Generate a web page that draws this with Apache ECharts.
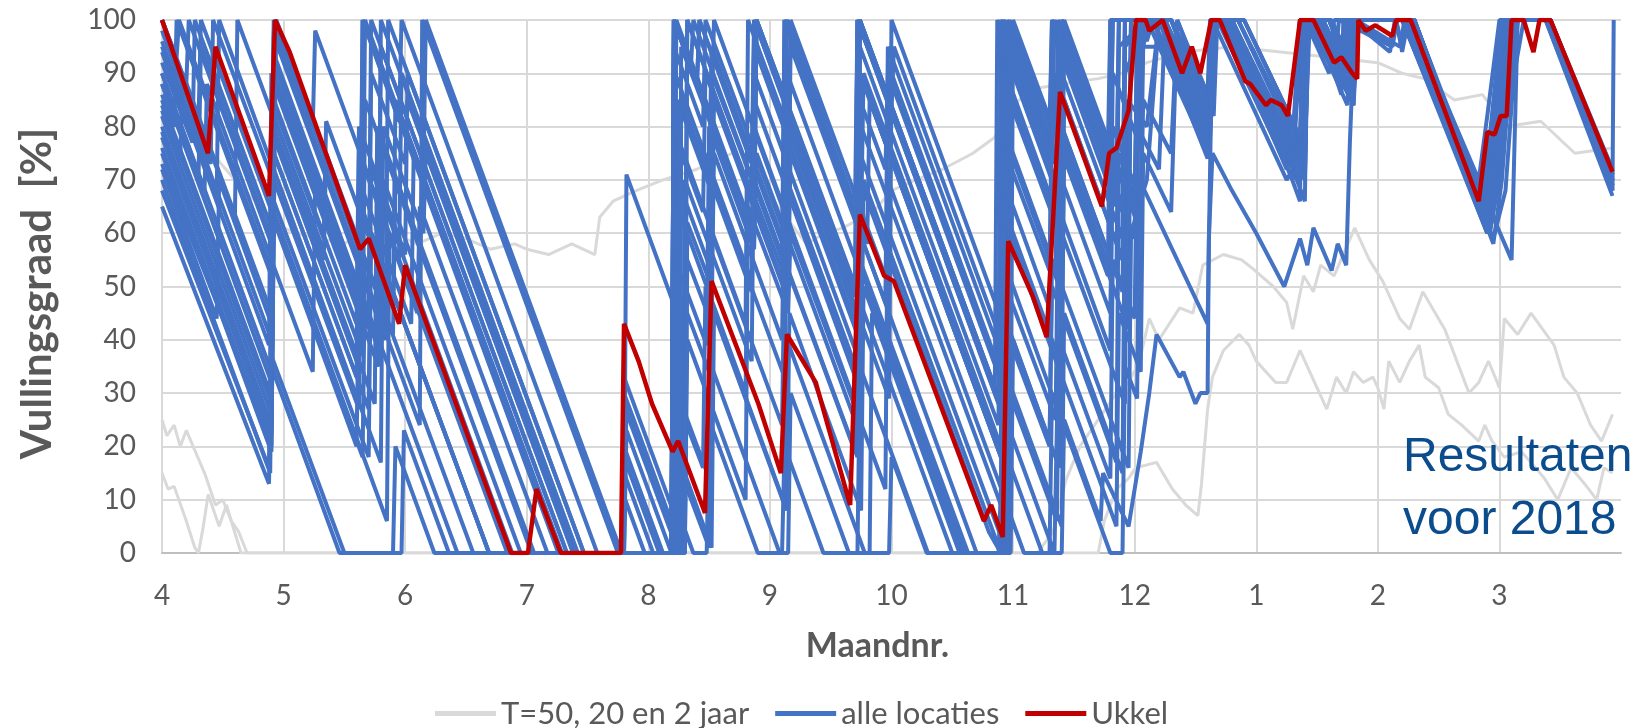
<!DOCTYPE html>
<html>
<head>
<meta charset="utf-8">
<title>Vullingsgraad 2018</title>
<script src="https://cdn.jsdelivr.net/npm/echarts@6/dist/echarts.min.js"></script>
<style>
  html, body { margin: 0; padding: 0; background: #fff; }
  #chart { width: 1644px; height: 728px; }
</style>
</head>
<body>
<div id="chart"></div>
<script>
// x = maanden sinds 1 april (0 = begin maand 4), y = vullingsgraad in %
const monthLabels = ['4', '5', '6', '7', '8', '9', '10', '11', '12', '1', '2', '3'];

const ukkel = [[0,100],[0.378,75],[0.44,95],[0.88,67],[0.93,100],[1.05,94],[1.63,57],[1.7,59],[1.95,43],[2.0,54],[2.87,0],[3.01,0],[3.08,12],[3.28,0],[3.775,0],[3.8,43],[3.92,36],[4.03,28],[4.2,19],[4.245,21],[4.466,7.5],[4.52,51],[4.905,28],[5.09,15],[5.14,41],[5.377,32],[5.66,9],[5.74,63.5],[5.94,52],[6.02,51],[6.76,6],[6.82,9],[6.915,3],[6.96,58.5],[7.165,48],[7.276,40.5],[7.386,86.5],[7.73,65],[7.79,75],[7.85,76],[7.95,83],[8.01,100],[8.09,100],[8.12,98],[8.23,100],[8.39,90],[8.47,95],[8.54,90],[8.63,100],[8.7,100],[8.91,88.5],[8.95,88],[9.08,84],[9.12,85],[9.21,84],[9.26,82],[9.36,100],[9.47,100],[9.64,92],[9.7,93],[9.79,90],[9.83,89],[9.84,100],[9.9,98],[9.98,99],[10.12,97],[10.15,100],[10.27,100],[10.83,66],[10.9,79],[10.96,78.5],[11.01,82],[11.06,82],[11.1,100],[11.2,100],[11.28,94],[11.33,100],[11.42,100],[11.93,71.5]];

const grayT50 = [[0,85],[0.3,78],[0.6,70],[0.85,64],[1.0,61],[1.1,60],[1.3,59],[1.5,58],[1.7,61],[1.9,60],[2.1,58],[2.3,60],[2.5,59],[2.7,57],[2.9,58],[3.0,57],[3.18,56],[3.37,58],[3.56,56],[3.6,63],[3.71,66],[3.9,68],[4.12,70],[4.4,72],[4.69,75],[4.9,70],[5.1,64],[5.3,58],[5.45,60],[5.6,61],[5.85,64],[6.0,68],[6.2,70],[6.42,72],[6.67,75],[6.85,78],[7.0,84],[7.15,87],[7.4,88],[7.7,89],[7.9,90],[8.1,92],[8.4,94],[8.8,95],[9.2,94],[9.6,93],[10.0,92],[10.2,90],[10.38,89],[10.63,85],[10.86,86],[11.06,80],[11.34,81],[11.62,75],[11.93,76]];
const grayT20 = [[0,25],[0.04,22],[0.1,24],[0.15,20],[0.2,23],[0.35,15],[0.44,9],[0.5,10],[0.57,6],[0.63,4],[0.7,0],[7.2,0],[7.33,4],[7.38,9],[7.44,14],[7.55,20],[7.7,25],[7.85,30],[7.95,32],[8.04,36],[8.12,44],[8.2,40],[8.37,46],[8.48,45],[8.56,54],[8.73,56],[8.88,55],[8.99,53],[9.14,50],[9.25,47],[9.3,42],[9.39,52],[9.47,49],[9.53,54],[9.64,52],[9.81,61],[9.93,55],[10.04,51],[10.18,44],[10.26,42],[10.37,49],[10.55,42],[10.75,30],[10.83,32],[10.91,36],[11.0,31],[11.04,44],[11.15,41],[11.26,45],[11.45,39],[11.53,33],[11.64,30],[11.75,24],[11.84,21],[11.93,26]];
const grayT2 = [[0,15],[0.05,12],[0.1,12.5],[0.2,6],[0.27,1],[0.3,0],[0.34,5],[0.38,11],[0.47,5],[0.53,9],[0.65,0],[7.7,0],[7.75,6],[7.85,12],[7.95,14],[8.01,16],[8.18,17],[8.31,12],[8.42,9],[8.52,7],[8.55,13],[8.6,27],[8.64,33],[8.73,38],[8.86,41],[8.94,39],[9.0,36],[9.16,32],[9.25,32],[9.36,38],[9.46,33],[9.58,27],[9.66,33],[9.74,30],[9.8,34],[9.88,32],[9.96,33],[10.0,31],[10.05,27],[10.09,36],[10.18,32],[10.26,36],[10.34,39],[10.39,33],[10.5,31],[10.58,26],[10.69,24],[10.83,21],[10.88,24],[10.94,21],[11.04,18],[11.18,19],[11.26,17],[11.37,14],[11.48,10],[11.59,16],[11.7,13],[11.8,10],[11.86,16],[11.93,15]];

const loc1 = [[0,100],[0.2,88],[0.22,100],[0.9,58],[0.92,100],[1.65,55],[1.67,100],[2.15,70],[2.17,100],[3.78,0],[4.21,0],[4.23,100],[4.87,60],[4.89,100],[5.72,49],[5.74,100],[6.93,26],[6.95,100],[7.38,73],[7.4,100],[7.8,75],[7.82,100],[8.2,100],[8.6,75],[8.63,100],[8.72,100],[9.36,70],[9.38,100],[9.5,100],[9.78,87],[9.8,100],[10.3,100],[10.87,66],[10.95,78],[11.08,100],[11.42,100],[11.93,71]];
const loc2 = [[0,100],[0.12,93],[0.14,100],[0.9,53],[0.92,97],[1.84,40],[1.86,100],[3.47,0],[4.25,0],[4.27,95],[4.52,80],[4.54,100],[5.15,62],[5.17,100],[5.98,50],[6.0,100],[6.95,41],[6.97,100],[7.3,80],[7.32,100],[7.9,64],[7.92,100],[8.25,100],[8.62,82],[8.64,100],[8.8,100],[9.4,72],[9.42,100],[9.55,100],[9.72,92],[9.74,100],[10.15,100],[10.2,94],[10.25,100],[10.3,100],[10.9,62],[11.0,75],[11.1,100],[11.38,100],[11.93,68]];
const loc3 = [[0,98],[0.4,73],[0.42,100],[0.91,70],[0.93,93],[1.7,45],[1.72,100],[3.33,0],[3.8,0],[3.82,71],[4.3,41],[4.32,100],[4.85,67],[4.87,90],[5.72,37],[5.74,100],[6.9,28],[6.92,100],[7.4,70],[7.42,95],[8.0,59],[8.02,100],[8.15,100],[8.6,78],[8.63,100],[8.7,100],[9.25,74],[9.3,80],[9.36,76],[9.4,100],[9.6,90],[9.64,100],[10.2,100],[10.85,64],[10.92,75],[11.05,100],[11.4,100],[11.93,70]];
const loc4 = [[0,96],[0.9,40],[0.92,100],[1.24,80],[1.26,98],[1.95,55],[1.97,90],[3.42,0],[4.19,0],[4.21,100],[4.4,88],[4.42,100],[5.12,57],[5.14,100],[5.75,62],[5.77,90],[6.9,20],[6.92,95],[7.35,68],[7.37,100],[7.85,70],[7.87,100],[8.3,100],[8.6,86],[8.62,100],[8.75,100],[9.3,74],[9.36,100],[9.45,100],[9.8,84],[9.82,100],[10.27,100],[10.83,70],[10.9,82],[11.0,100],[11.4,100],[11.93,70]];
const loc5 = [[0,94],[0.88,39],[0.9,90],[1.63,45],[1.65,100],[3.26,0],[4.2,0],[4.22,90],[4.85,51],[4.87,100],[5.7,48],[5.72,100],[6.98,22],[7.0,100],[7.78,52],[7.8,100],[8.05,100],[8.1,96],[8.15,100],[8.6,75],[8.64,100],[9.25,70],[9.3,72],[9.4,66],[9.42,100],[9.5,100],[9.7,88],[9.72,100],[10.1,96],[10.15,100],[10.3,100],[10.9,63],[11.0,72],[11.15,100],[11.4,100],[11.93,69]];
const loc6 = [[0,92],[0.25,77],[0.27,100],[0.9,61],[0.92,88],[1.78,35],[1.8,100],[3.41,0],[4.22,0],[4.24,85],[4.5,69],[4.52,95],[5.15,56],[5.17,95],[5.95,47],[5.97,95],[6.92,36],[6.94,90],[7.4,61],[7.42,100],[7.95,67],[7.97,100],[8.2,100],[8.62,80],[8.65,100],[8.9,100],[9.4,76],[9.44,100],[9.6,100],[9.75,92],[9.78,100],[10.25,100],[10.95,58],[11.02,70],[11.12,100],[11.42,100],[11.93,71]];
const loc7 = [[0,90],[0.9,34],[0.92,85],[1.6,43],[1.62,80],[2.0,56],[2.02,90],[3.47,0],[4.19,0],[4.21,80],[4.8,43],[4.82,100],[5.72,44],[5.74,95],[6.88,24],[6.9,100],[7.32,73],[7.34,90],[7.9,55],[7.92,95],[8.1,100],[8.22,100],[8.6,80],[8.63,100],[8.68,100],[9.2,75],[9.25,80],[9.36,74],[9.38,100],[9.52,100],[9.8,86],[9.82,100],[10.18,95],[10.22,100],[10.3,100],[10.88,64],[10.95,76],[11.05,100],[11.4,100],[11.93,69]];
const loc8 = [[0,88],[0.9,32],[0.92,84],[1.33,59],[1.35,81],[1.9,47],[1.92,85],[3.29,0],[3.78,0],[3.8,33],[4.25,5],[4.27,75],[4.45,64],[4.47,90],[5.1,51],[5.12,100],[5.8,58],[5.82,85],[6.95,15],[6.97,85],[7.38,60],[7.4,100],[8.02,62],[8.04,100],[8.3,100],[8.62,84],[8.66,100],[8.8,100],[9.36,73],[9.4,100],[9.7,88],[9.74,100],[10.2,100],[10.85,66],[10.92,78],[11.02,100],[11.4,100],[11.93,72]];
const loc9 = [[0,86],[0.1,80],[0.12,100],[0.9,52],[0.92,82],[1.65,37],[1.67,85],[3.04,0],[4.28,0],[4.3,70],[4.85,36],[4.87,80],[5.72,27],[5.74,90],[6.9,18],[6.92,80],[7.35,53],[7.37,80],[7.8,53],[7.82,90],[8.05,76],[8.07,100],[8.25,100],[8.6,83],[8.64,100],[8.75,100],[9.3,73],[9.38,100],[9.5,100],[9.64,90],[9.68,100],[10.12,95],[10.16,100],[10.3,100],[10.92,61],[11.0,70],[11.1,100],[11.4,100],[11.93,69]];
const loc10 = [[0,85],[0.89,30],[0.91,80],[1.75,28],[1.77,80],[3.06,0],[3.79,0],[3.81,27],[4.25,0],[4.3,0],[4.32,62],[4.52,50],[4.54,85],[5.14,48],[5.16,80],[5.98,29],[6.0,90],[6.96,30],[6.98,75],[7.38,50],[7.4,90],[7.9,59],[7.92,100],[8.15,100],[8.6,74],[8.63,100],[8.72,100],[9.25,72],[9.3,76],[9.4,70],[9.42,100],[9.55,100],[9.8,85],[9.83,100],[10.27,100],[10.85,63],[10.9,74],[11.08,100],[11.4,100],[11.93,70]];
const loc11 = [[0,84],[0.9,28],[0.92,78],[1.6,36],[1.62,70],[2.05,43],[2.07,75],[3.28,0],[4.2,0],[4.22,55],[4.48,39],[4.5,80],[4.87,57],[4.89,75],[5.73,23],[5.75,80],[6.9,9],[6.92,70],[7.3,46],[7.32,85],[7.85,52],[7.87,95],[8.1,100],[8.3,100],[8.6,86],[8.64,100],[8.85,100],[9.4,74],[9.43,100],[9.62,100],[9.78,92],[9.8,100],[10.22,100],[10.9,60],[10.98,72],[11.12,100],[11.38,100],[11.93,67]];
const loc12 = [[0,82],[0.9,26],[0.92,75],[1.7,27],[1.72,72],[2.88,0],[3.8,0],[3.82,23],[4.19,0],[4.25,0],[4.27,48],[4.5,34],[4.52,70],[5.12,33],[5.14,70],[5.72,34],[5.74,75],[6.95,0],[6.97,60],[7.4,33],[7.42,75],[7.95,42],[7.97,100],[8.2,100],[8.62,78],[8.65,100],[8.78,100],[9.36,72],[9.4,100],[9.5,100],[9.7,86],[9.72,100],[10.26,100],[10.88,63],[10.95,75],[11.1,100],[11.4,100],[11.93,70]];
const loc13 = [[0,80],[0.9,24],[0.92,72],[1.8,17],[1.82,70],[2.95,0],[4.3,0],[4.32,40],[4.8,10],[4.82,65],[5.15,45],[5.17,60],[5.95,12],[5.97,70],[6.92,11],[6.94,50],[7.35,25],[7.37,65],[7.8,38],[7.82,80],[8.05,66],[8.07,95],[8.3,95],[8.6,80],[8.63,100],[8.7,100],[9.3,70],[9.36,100],[9.44,100],[9.75,84],[9.78,100],[10.1,94],[10.14,100],[10.3,100],[10.9,63],[11.0,74],[11.2,100],[11.42,100],[11.93,71]];
const loc14 = [[0,79],[0.9,23],[0.92,70],[1.62,27],[1.64,65],[2.69,0],[3.78,0],[3.8,20],[4.12,0],[4.22,0],[4.24,30],[4.5,14],[4.52,60],[5.1,24],[5.12,55],[5.72,18],[5.74,60],[6.7,0],[6.9,0],[6.92,45],[7.38,16],[7.4,60],[7.92,28],[7.94,85],[8.1,80],[8.2,100],[8.6,77],[8.64,100],[8.75,100],[9.25,76],[9.3,80],[9.4,74],[9.42,100],[9.6,100],[9.8,88],[9.82,100],[10.25,100],[10.95,59],[11.05,68],[11.15,100],[11.4,100],[11.93,68],[11.94,100]];
const loc15 = [[0,78],[0.9,22],[0.92,66],[1.7,18],[1.72,60],[2.69,0],[4.19,0],[4.21,100],[4.85,60],[4.87,70],[5.7,19],[5.72,55],[6.6,0],[6.98,0],[7.0,40],[7.3,21],[7.32,50],[7.85,17],[7.87,75],[8.0,67],[8.02,90],[8.12,100],[8.3,100],[8.62,82],[8.65,100],[8.9,100],[9.4,76],[9.43,100],[9.6,100],[9.7,94],[9.75,100],[10.2,100],[10.86,66],[10.93,77],[11.05,100],[11.4,100],[11.93,70]];
const loc16 = [[0,76],[0.9,20],[0.92,63],[1.65,18],[1.67,55],[2.56,0],[3.78,0],[3.8,15],[4.04,0],[4.28,0],[4.3,25],[4.45,16],[4.47,50],[5.14,8],[5.16,45],[5.75,8],[5.77,50],[6.58,0],[6.9,0],[6.92,35],[7.4,5],[7.42,45],[7.9,15],[7.92,70],[8.05,62],[8.07,85],[8.3,75],[8.35,100],[8.65,82],[8.68,100],[8.8,100],[9.36,72],[9.4,100],[9.55,100],[9.8,84],[9.84,100],[10.2,100],[10.9,60],[10.98,70],[11.1,100],[11.4,100],[11.93,69]];
const loc17 = [[0,75],[0.9,19],[0.92,64],[1.85,6],[1.87,60],[2.84,0],[4.2,0],[4.22,20],[4.52,1],[4.54,45],[5.12,9],[5.14,40],[5.78,0],[5.82,0],[5.84,45],[6.56,0],[6.95,0],[6.97,30],[7.36,6],[7.38,40],[7.8,14],[7.82,55],[8.0,44],[8.02,80],[8.2,72],[8.25,100],[8.6,80],[8.64,100],[8.72,100],[9.3,72],[9.36,100],[9.48,100],[9.72,88],[9.75,100],[10.24,100],[10.88,62],[10.96,73],[11.08,100],[11.4,100],[11.93,70]];
const loc18 = [[0,73],[0.88,22],[0.9,35],[1.46,0],[1.9,0],[1.92,20],[2.24,0],[3.79,0],[3.81,10],[3.97,0],[4.3,0],[4.32,100],[4.87,66],[4.89,100],[6.5,0],[6.92,0],[6.94,25],[7.34,0],[7.35,0],[7.37,35],[7.85,5],[7.87,45],[8.05,34],[8.07,75],[8.3,64],[8.35,100],[8.62,85],[8.65,100],[8.85,100],[9.4,75],[9.42,100],[9.6,100],[9.78,90],[9.8,100],[10.25,100],[10.92,60],[11.0,71],[11.1,100],[11.4,100],[11.93,71]];
const loc19 = [[0,70],[0.89,15],[0.91,63],[1.6,20],[1.62,50],[2.43,0],[4.25,0],[4.27,15],[4.5,1],[4.52,35],[5.08,0],[5.15,0],[5.17,30],[5.65,0],[5.72,0],[5.74,35],[6.3,0],[6.9,0],[6.92,20],[7.24,0],[7.3,0],[7.32,30],[7.8,0],[7.9,0],[7.92,35],[8.02,29],[8.04,70],[8.35,55],[8.6,43],[8.64,100],[8.75,100],[9.36,70],[9.42,100],[9.6,100],[9.75,92],[9.78,100],[10.3,100],[10.87,65],[10.95,77],[11.08,100],[11.4,100],[11.93,70]];
const loc20 = [[0,65],[0.88,13],[0.9,37],[1.5,0],[1.97,0],[1.99,23],[2.36,0],[4.19,0],[4.21,10],[4.37,0],[4.48,0],[4.5,25],[4.9,0],[5.1,0],[5.12,20],[5.44,0],[5.98,0],[6.0,18],[6.29,0],[6.88,0],[6.9,12],[7.09,0],[7.4,0],[7.42,25],[7.72,6],[7.74,15],[7.95,5],[8.05,19],[8.12,30],[8.18,41],[8.37,33],[8.4,34],[8.5,28],[8.54,30],[8.6,30],[8.61,59],[8.64,75],[8.8,68],[9.0,60],[9.23,50],[9.36,59],[9.42,54],[9.47,61],[9.62,53],[9.67,58],[9.74,54],[9.77,77],[9.81,100],[10.25,100],[11.1,55],[11.15,100],[11.4,100],[11.93,68]];
const loc21 = [[0,100],[0.3,81],[0.32,100],[0.92,63],[0.94,100],[1.78,48],[1.8,95],[3.33,0],[4.19,0],[4.21,100],[4.4,88],[4.42,100],[4.85,73],[4.87,100],[5.7,49],[5.72,100],[6.0,83],[6.02,95],[6.9,40],[6.92,100],[7.3,76],[7.32,100],[7.95,61],[7.97,100],[8.15,100],[8.6,78],[8.62,100],[8.7,100],[9.25,75],[9.3,78],[9.36,75],[9.4,100],[9.5,100],[9.72,90],[9.75,100],[10.15,100],[10.2,95],[10.25,100],[10.3,100],[10.85,66],[10.92,76],[11.02,100],[11.42,100],[11.93,72]];
const loc22 = [[0,95],[0.45,67],[0.47,100],[0.9,73],[0.92,98],[2.12,24],[2.14,100],[3.75,0],[4.19,0],[4.21,100],[4.35,91],[4.37,100],[5.1,55],[5.12,100],[5.72,63],[5.74,100],[6.85,31],[6.87,100],[7.38,68],[7.4,100],[7.78,76],[7.8,100],[8.1,100],[8.6,75],[8.62,100],[8.7,100],[9.2,76],[9.36,66],[9.38,100],[9.45,100],[9.7,88],[9.72,100],[10.3,100],[10.88,64],[10.95,75],[11.05,100],[11.4,100],[11.93,71]];
const loc23 = [[0,88],[0.3,70],[0.32,95],[0.9,59],[0.92,90],[1.7,42],[1.72,90],[2.0,73],[2.02,85],[3.39,0],[4.19,0],[4.21,95],[4.45,80],[4.47,100],[5.12,60],[5.14,90],[5.72,54],[5.74,90],[6.9,18],[6.92,90],[7.35,63],[7.37,95],[7.85,65],[7.87,100],[8.25,100],[8.6,82],[8.63,100],[8.8,100],[9.36,73],[9.4,100],[9.6,100],[9.78,90],[9.8,100],[10.25,100],[10.88,62],[10.95,74],[11.08,100],[11.4,100],[11.93,69]];
const loc24 = [[0,83],[0.15,74],[0.17,90],[0.9,45],[0.92,80],[1.33,55],[1.35,75],[1.9,41],[1.92,70],[3.05,0],[3.78,0],[3.8,30],[4.22,4],[4.24,70],[4.5,54],[4.52,90],[4.85,70],[4.87,95],[5.72,42],[5.74,85],[5.95,72],[5.97,90],[6.92,31],[6.94,75],[7.3,53],[7.32,85],[7.9,49],[7.92,90],[8.1,100],[8.3,100],[8.62,80],[8.65,100],[8.8,100],[9.3,76],[9.36,100],[9.5,100],[9.7,90],[9.73,100],[10.2,100],[10.9,61],[10.97,73],[11.1,100],[11.4,100],[11.93,70]];
const loc25 = [[0,72],[0.45,44],[0.47,70],[0.9,43],[0.92,75],[1.6,33],[1.62,75],[2.1,45],[2.12,65],[3.17,0],[4.22,0],[4.24,65],[4.8,30],[4.82,70],[5.15,50],[5.17,75],[5.72,41],[5.74,70],[6.8,4],[6.9,0],[6.92,55],[7.38,26],[7.4,70],[7.8,45],[7.82,75],[8.0,64],[8.02,95],[8.2,100],[8.62,78],[8.65,100],[8.75,100],[9.25,75],[9.3,79],[9.38,74],[9.42,100],[9.6,100],[9.8,88],[9.83,100],[10.25,100],[10.85,65],[10.93,76],[11.05,100],[11.4,100],[11.93,70]];
const loc26 = [[0,68],[0.88,16],[0.9,55],[1.24,34],[1.26,70],[1.7,43],[1.72,60],[2.69,0],[3.8,0],[3.82,28],[4.27,0],[4.3,0],[4.32,55],[4.52,43],[4.54,75],[5.1,40],[5.12,70],[5.72,33],[5.74,55],[6.63,0],[6.95,0],[6.97,40],[7.3,20],[7.32,55],[7.95,16],[7.97,60],[8.1,70],[8.2,100],[8.6,80],[8.63,100],[8.7,100],[9.4,70],[9.43,100],[9.55,100],[9.75,90],[9.78,100],[10.27,100],[10.9,62],[10.98,74],[11.1,100],[11.4,100],[11.93,69]];
const loc27 = [[0,100],[0.6,63],[0.62,100],[0.91,82],[0.93,100],[1.63,57],[1.65,100],[1.95,81],[1.97,100],[3.58,0],[4.19,0],[4.21,100],[4.87,59],[4.89,100],[5.12,86],[5.14,100],[5.7,65],[5.72,100],[6.88,28],[6.9,100],[7.32,74],[7.34,100],[7.8,71],[7.82,100],[8.1,100],[8.6,78],[8.63,100],[8.9,100],[9.36,78],[9.4,100],[9.6,100],[9.8,90],[9.82,100],[10.3,100],[10.85,66],[10.92,77],[11.02,100],[11.42,100],[11.93,71]];
const loc28 = [[0,90],[0.35,68],[0.37,88],[0.9,55],[0.92,92],[1.8,37],[1.82,80],[2.15,60],[2.17,75],[3.38,0],[3.78,0],[3.8,18],[4.09,0],[4.25,0],[4.27,85],[4.85,49],[4.87,85],[5.75,30],[5.77,70],[6.9,0],[6.92,65],[7.4,35],[7.42,85],[7.9,55],[7.92,100],[8.2,100],[8.62,80],[8.65,100],[8.85,100],[9.3,78],[9.36,100],[9.5,100],[9.72,90],[9.75,100],[10.22,100],[10.92,60],[11.0,71],[11.12,100],[11.4,100],[11.93,68]];

const alleLocaties = [loc1, loc2, loc3, loc4, loc5, loc6, loc7, loc8, loc9, loc10, loc11, loc12, loc13, loc14,
  loc15, loc16, loc17, loc18, loc19, loc20, loc21, loc22, loc23, loc24, loc25, loc26, loc27, loc28];
const grijs = [grayT50, grayT20, grayT2];

const FONT = 'Lato';
const TXT = '#595959';
const GRID = '#D9D9D9';

function lijn(name, data, color, width) {
  return {
    name: name,
    type: 'line',
    data: data,
    symbol: 'none',
    showSymbol: false,
    silent: true,
    itemStyle: { color: color },
    lineStyle: { color: color, width: width }
  };
}

const series = []
  .concat(grijs.map(d => lijn('T=50, 20 en 2 jaar', d, '#D9D9D9', 3)))
  .concat(alleLocaties.map(d => lijn('alle locaties', d, '#4472C4', 4)))
  .concat([lijn('Ukkel', ukkel, '#C00000', 4.5)]);

// laatste verticale rasterlijn (rand rechts) onzichtbaar
const splitColors = monthLabels.map(() => GRID).concat(['rgba(0,0,0,0)']);

const option = {
  animation: false,
  grid: { left: 162, right: 23, top: 20, bottom: 175 },
  legend: {
    left: 430,
    top: 693,
    icon: 'rect',
    itemWidth: 61,
    itemHeight: 5,
    itemGap: 26,
    textStyle: { fontFamily: FONT, fontSize: 31, color: TXT },
    data: ['T=50, 20 en 2 jaar', 'alle locaties', 'Ukkel']
  },
  xAxis: {
    type: 'value',
    min: 0,
    max: 12,
    interval: 1,
    name: 'Maandnr.',
    nameLocation: 'middle',
    nameGap: 76,
    nameTextStyle: { fontFamily: FONT, fontSize: 34, fontWeight: 'bold', color: TXT, padding: [0, 28, 0, 0] },
    axisLine: { lineStyle: { color: '#BFBFBF', width: 2 } },
    axisTick: { show: false },
    axisLabel: {
      margin: 29,
      fontFamily: FONT,
      fontSize: 28,
      color: TXT,
      showMaxLabel: false,
      formatter: v => monthLabels[Math.round(v)] || ''
    },
    splitLine: { show: true, lineStyle: { color: splitColors, width: 2 } }
  },
  yAxis: {
    type: 'value',
    min: 0,
    max: 100,
    interval: 10,
    name: 'Vullingsgraad  [%]',
    nameLocation: 'middle',
    nameGap: 104,
    nameTextStyle: { fontFamily: FONT, fontSize: 42, fontWeight: 'bold', color: TXT, padding: [0, 14, 0, 0] },
    axisLine: { show: false },
    axisTick: { show: false },
    axisLabel: { margin: 26, fontFamily: FONT, fontSize: 28, color: TXT },
    splitLine: { lineStyle: { color: GRID, width: 2 } }
  },
  graphic: [{
    type: 'text',
    left: 1403,
    top: 426,
    z: 100,
    style: {
      text: 'Resultaten\nvoor 2018',
      fill: '#0B4C8C',
      font: '48px "Liberation Sans", Arial, sans-serif',
      lineHeight: 63
    }
  }],
  series: series
};

echarts.init(document.getElementById('chart')).setOption(option);
</script>
</body>
</html>
